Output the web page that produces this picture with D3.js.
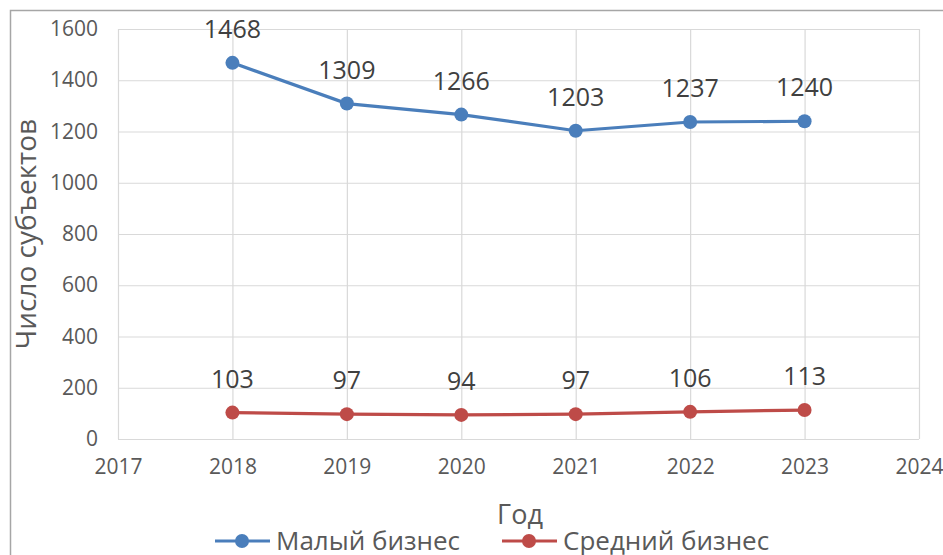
<!DOCTYPE html>
<html>
<head>
<meta charset="utf-8">
<script src="https://cdn.jsdelivr.net/npm/d3@7"></script>
<style>
  body { margin: 0; background: #fff; }
  svg { display: block; font-family: "Open Sans", "Noto Sans", sans-serif; }
</style>
</head>
<body>
<svg width="943" height="555"></svg>
<script>
// data
var years = [2018, 2019, 2020, 2021, 2022, 2023];
var small = [1468, 1309, 1266, 1203, 1237, 1240];
var medium = [103, 97, 94, 97, 106, 113];
var xTicks = [2017, 2018, 2019, 2020, 2021, 2022, 2023, 2024];
var yTicks = [0, 200, 400, 600, 800, 1000, 1200, 1400, 1600];
var seriesNames = ["Малый бизнес", "Средний бизнес"];
var colors = ["#4a7ebb", "#be4b48"];

var svg = d3.select("svg");

var plotLeft = 118, plotRight = 919, plotTop = 29, plotBottom = 439;

var x = d3.scaleLinear().domain([2017, 2024]).range([plotLeft, plotRight]);
var y = d3.scaleLinear().domain([0, 1600]).range([plotBottom, plotTop]);

// outer frame
svg.append("rect")
    .attr("x", 10.5).attr("y", 10.5)
    .attr("width", 1000).attr("height", 1000)
    .attr("fill", "none").attr("stroke", "#a6a6a6").attr("stroke-width", 1.5);

// grid
svg.append("g").selectAll("line")
    .data(yTicks)
    .enter().append("line")
    .attr("x1", plotLeft).attr("x2", plotRight)
    .attr("y1", function(d) { return y(d) + 0.5; })
    .attr("y2", function(d) { return y(d) + 0.5; })
    .attr("stroke", "#d9d9d9").attr("stroke-width", 1.2);

svg.append("g").selectAll("line")
    .data(xTicks)
    .enter().append("line")
    .attr("y1", plotTop).attr("y2", plotBottom)
    .attr("x1", function(d) { return x(d) + 0.5; })
    .attr("x2", function(d) { return x(d) + 0.5; })
    .attr("stroke", "#d9d9d9").attr("stroke-width", 1.2);

// axes (labels only)
var yAxis = svg.append("g")
    .attr("transform", "translate(" + plotLeft + ",0)")
    .call(d3.axisLeft(y).tickValues(yTicks).tickSize(0).tickPadding(20).tickFormat(d3.format("d")));
var xAxis = svg.append("g")
    .attr("transform", "translate(0," + plotBottom + ")")
    .call(d3.axisBottom(x).tickValues(xTicks).tickSize(0).tickPadding(20).tickFormat(d3.format("d")));
[yAxis, xAxis].forEach(function(a) {
  a.select(".domain").remove();
  a.selectAll("text").attr("font-size", 21).attr("fill", "#595959")
    .attr("font-family", "'Open Sans', 'Noto Sans', sans-serif");
});

// axis titles
svg.append("text")
    .attr("transform", "translate(36,234) rotate(-90)")
    .attr("text-anchor", "middle")
    .attr("font-size", 28).attr("fill", "#595959")
    .text("Число субъектов");

svg.append("text")
    .attr("x", 520).attr("y", 524)
    .attr("text-anchor", "middle")
    .attr("font-size", 27).attr("fill", "#595959")
    .text("Год");

// series
var line = d3.line()
    .x(function(d) { return x(d.year); })
    .y(function(d) { return y(d.value); });

[small, medium].forEach(function(vals, i) {
  var pts = years.map(function(yr, j) { return {year: yr, value: vals[j]}; });
  var g = svg.append("g");
  g.append("path")
      .datum(pts)
      .attr("d", line)
      .attr("fill", "none")
      .attr("stroke", colors[i])
      .attr("stroke-width", 3.2);
  g.selectAll("circle")
      .data(pts)
      .enter().append("circle")
      .attr("cx", function(d) { return x(d.year); })
      .attr("cy", function(d) { return y(d.value); })
      .attr("r", 7)
      .attr("fill", colors[i]);
  g.selectAll("text")
      .data(pts)
      .enter().append("text")
      .attr("x", function(d) { return x(d.year); })
      .attr("y", function(d) { return y(d.value) - 25; })
      .attr("text-anchor", "middle")
      .attr("font-size", 25)
      .attr("fill", "#404040")
      .text(function(d) { return d.value; });
});

// legend
var legendX = [215, 502];
seriesNames.forEach(function(name, i) {
  var lg = svg.append("g").attr("transform", "translate(" + legendX[i] + ",541)");
  lg.append("line").attr("x1", 0).attr("x2", 55).attr("y1", 0).attr("y2", 0)
      .attr("stroke", colors[i]).attr("stroke-width", 3.2);
  lg.append("circle").attr("cx", 27).attr("cy", 0).attr("r", 7).attr("fill", colors[i]);
  lg.append("text").attr("x", 61).attr("y", 9)
      .attr("font-size", 26).attr("fill", "#595959")
      .text(name);
});
</script>
</body>
</html>
